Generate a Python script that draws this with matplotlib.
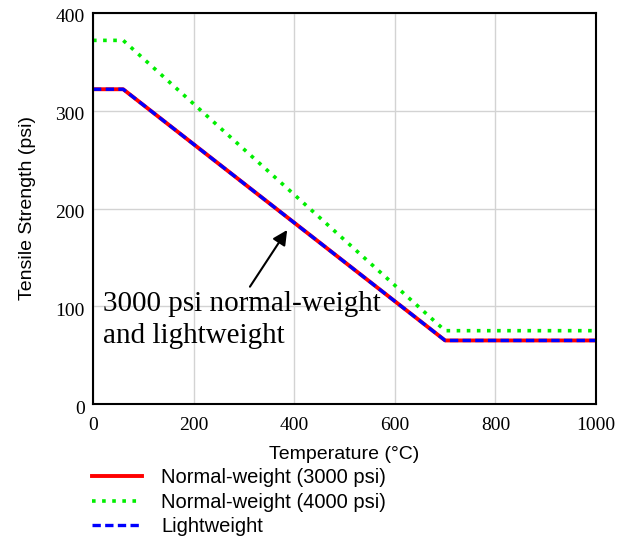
import matplotlib.pyplot as plt
import matplotlib.transforms as mtransforms

# Temperature (°C) breakpoints and tensile strengths (psi)
temps = [0, 60, 700, 1000]
nw_3000 = [322, 322, 65, 65]
nw_4000 = [372, 372, 75, 75]
lightweight = [322, 322, 65, 65]

x_ticks = [0, 200, 400, 600, 800, 1000]
y_ticks = [0, 100, 200, 300, 400]

serif = 'Liberation Serif'
sans = 'Liberation Sans'

fig = plt.figure(figsize=(6.18, 5.39), dpi=100)
ax = fig.add_axes([93 / 618, 1 - 404 / 539, 503 / 618, 391 / 539])

ax.plot(temps, nw_3000, color='#ff0000', lw=2.8, ls='-', label='Normal-weight (3000 psi)')
ax.plot(temps, nw_4000, color='#00ee00', lw=2.6, ls=(0, (1, 1.8)), label='Normal-weight (4000 psi)')
ax.plot(temps, lightweight, color='#0000ff', lw=2.4, ls=(0, (2.5, 1.3)), label='Lightweight')

ax.set_xlim(0, 1000)
ax.set_ylim(0, 400)
ax.set_xticks(x_ticks)
ax.set_yticks(y_ticks)
ax.tick_params(axis='x', length=0, pad=9)
ax.tick_params(axis='y', length=0, pad=6)
for lbl in ax.get_xticklabels() + ax.get_yticklabels():
    lbl.set_fontfamily(serif)
    lbl.set_fontsize(14)
# y tick labels sit a little below their gridlines in the original
shift = mtransforms.ScaledTranslation(0, -3 / 100, fig.dpi_scale_trans)
for lbl in ax.get_yticklabels():
    lbl.set_transform(lbl.get_transform() + shift)
ax.grid(True, color='#d3d3d3', lw=1)
ax.set_axisbelow(True)
for s in ax.spines.values():
    s.set_color('black')
    s.set_linewidth(1.5)

ax.set_xlabel('Temperature (°C)', fontfamily=sans, fontsize=14, labelpad=9)
ax.set_ylabel('Tensile Strength (psi)', fontfamily=sans, fontsize=14, labelpad=14)

ax.text(20, 85.5, '3000 psi normal-weight\nand lightweight', fontfamily=serif, fontsize=21,
        ha='left', va='center', linespacing=1.3)
ax.annotate('', xy=(386, 178), xytext=(312, 120),
            arrowprops=dict(arrowstyle='-|>', color='black', lw=1.5, mutation_scale=22,
                            shrinkA=0, shrinkB=0))

fig.legend(loc='upper left', bbox_to_anchor=(92 / 618, 0.131), frameon=False,
           prop={'family': sans, 'size': 14.5}, handlelength=2.5, handletextpad=0.95,
           labelspacing=0.27, borderaxespad=0, borderpad=0)

fig.savefig('out.png', dpi=100)
